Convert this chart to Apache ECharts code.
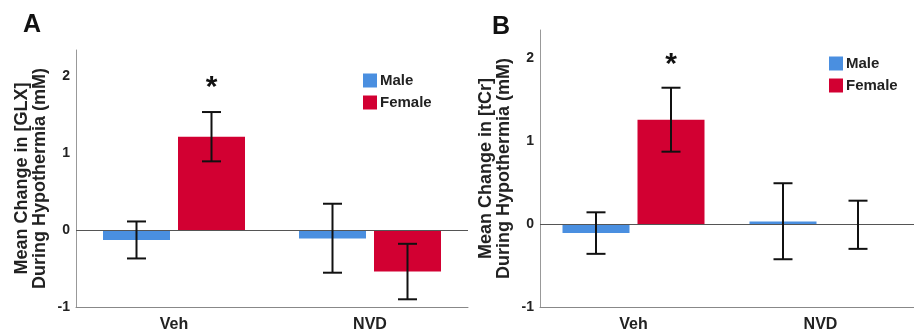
<!DOCTYPE html>
<html>
<head>
<meta charset="utf-8">
<script src="https://cdn.jsdelivr.net/npm/echarts@6/dist/echarts.min.js"></script>
<style>
  html, body { margin: 0; padding: 0; background: #fff; }
  #chart { width: 914px; height: 333px; }
</style>
</head>
<body>
<div id="chart"></div>
<script>
// groups on the x axis
const categories = ['Veh', 'NVD']

// panel A: GLX
const glxMale = [-0.13, -0.11]
const glxMaleLow = [-0.37, -0.555]
const glxMaleHigh = [0.11, 0.34]
const glxFemale = [1.21, -0.54]
const glxFemaleLow = [0.89, -0.90]
const glxFemaleHigh = [1.53, -0.18]
const glxStar = [1.84, null]   // '*' above female bars

// panel B: tCr
const tcrMale = [-0.11, 0.03]
const tcrMaleLow = [-0.36, -0.425]
const tcrMaleHigh = [0.14, 0.49]
const tcrFemale = [1.255, -0.01]
const tcrFemaleLow = [0.87, -0.30]
const tcrFemaleHigh = [1.64, 0.28]
const tcrStar = [1.92, null]

const FONT = 'Liberation Sans, Arial, sans-serif'
const BLUE = '#4a8fe0'
const RED = '#d20032'
const BAR_W = 67
const BAR_GAP = 8
const SHIFT = (BAR_W + BAR_GAP) / 2

function errData(mLow, mHigh, fLow, fHigh, star) {
  const out = []
  categories.forEach((c, i) => {
    out.push([i, mLow[i], mHigh[i], 0, null])
    out.push([i, fLow[i], fHigh[i], 1, star[i]])
  })
  return out
}

function renderErr(params, api) {
  const ci = api.value(0)
  const side = api.value(3) === 0 ? -SHIFT : SHIFT
  const lo = api.coord([ci, api.value(1)])
  const hi = api.coord([ci, api.value(2)])
  const x = lo[0] + side
  const cap = 9.5
  const style = { stroke: '#111', lineWidth: 2 }
  const kids = [
    { type: 'line', shape: { x1: x, y1: lo[1], x2: x, y2: hi[1] }, style },
    { type: 'line', shape: { x1: x - cap, y1: lo[1], x2: x + cap, y2: lo[1] }, style },
    { type: 'line', shape: { x1: x - cap, y1: hi[1], x2: x + cap, y2: hi[1] }, style }
  ]
  const s = api.value(4)
  if (s !== null && !isNaN(s)) {
    const p = api.coord([ci, s])
    kids.push({
      type: 'text',
      style: { text: '*', x: x, y: p[1], align: 'center', verticalAlign: 'middle',
        font: 'bold 30px ' + FONT, fill: '#111' }
    })
  }
  return { type: 'group', children: kids }
}

function yAxisFor(idx, name) {
  return {
    type: 'value', gridIndex: idx, min: -1, max: 2.335, interval: 1,
    name: name, nameLocation: 'middle', nameGap: 27, nameRotate: 90,
    nameTextStyle: { fontFamily: FONT, fontWeight: 'bold', fontSize: 18, lineHeight: 18, color: '#222' },
    axisLine: { show: true, lineStyle: { color: '#999', width: 1 } },
    axisTick: { show: false },
    splitLine: { show: false },
    axisLabel: {
      fontFamily: FONT, fontWeight: 'bold', fontSize: 14, color: '#222', margin: 6,
      formatter: v => Number.isInteger(v) ? String(v) : ''
    }
  }
}

function xAxisFor(idx) {
  return {
    type: 'category', gridIndex: idx, data: categories,
    axisLine: { show: true, onZero: false, lineStyle: { color: '#888', width: 1 } },
    axisTick: { show: false },
    axisLabel: { fontFamily: FONT, fontWeight: 'bold', fontSize: 16, color: '#222', margin: 10 }
  }
}

function barSeries(idx, name, vals, color, zero) {
  const s = {
    type: 'bar', name: name, xAxisIndex: idx, yAxisIndex: idx,
    data: vals, barWidth: BAR_W, barGap: (BAR_GAP / BAR_W * 100) + '%',
    itemStyle: { color: color }
  }
  if (zero) {
    s.markLine = {
      silent: true, symbol: 'none', label: { show: false },
      lineStyle: { color: '#555', width: 1, type: 'solid' },
      data: [{ yAxis: 0 }]
    }
  }
  return s
}

function legendAt(left, top) {
  return {
    left: left, top: top, padding: 0, orient: 'vertical', itemWidth: 14, itemHeight: 14, itemGap: 7,
    icon: 'rect', data: ['Male', 'Female'], selectedMode: false,
    textStyle: { fontFamily: FONT, fontWeight: 'bold', fontSize: 15, color: '#222', padding: [0, 0, 0, -2] }
  }
}

const option = {
  animation: false,
  backgroundColor: '#fff',
  title: [
    { text: 'A', left: 23, top: 13, padding: 0, textStyle: { fontFamily: FONT, fontWeight: 'bold', fontSize: 25, color: '#111' } },
    { text: 'B', left: 492, top: 15, padding: 0, textStyle: { fontFamily: FONT, fontWeight: 'bold', fontSize: 25, color: '#111' } }
  ],
  legend: [legendAt(363, 73), legendAt(829, 56)],
  grid: [
    { left: 76, top: 50, width: 392, height: 258 },
    { left: 540, top: 30, width: 390, height: 277 }
  ],
  xAxis: [xAxisFor(0), xAxisFor(1)],
  yAxis: [
    yAxisFor(0, 'Mean Change in [GLX]\nDuring Hypothermia (mM)'),
    yAxisFor(1, 'Mean Change in [tCr]\nDuring Hypothermia (mM)')
  ],
  series: [
    barSeries(0, 'Male', glxMale, BLUE, true),
    barSeries(0, 'Female', glxFemale, RED, false),
    {
      type: 'custom', xAxisIndex: 0, yAxisIndex: 0, renderItem: renderErr, z: 10,
      data: errData(glxMaleLow, glxMaleHigh, glxFemaleLow, glxFemaleHigh, glxStar)
    },
    barSeries(1, 'Male', tcrMale, BLUE, true),
    barSeries(1, 'Female', tcrFemale, RED, false),
    {
      type: 'custom', xAxisIndex: 1, yAxisIndex: 1, renderItem: renderErr, z: 10,
      data: errData(tcrMaleLow, tcrMaleHigh, tcrFemaleLow, tcrFemaleHigh, tcrStar)
    }
  ]
}

const chart = echarts.init(document.getElementById('chart'))
chart.setOption(option)
</script>
</body>
</html>
